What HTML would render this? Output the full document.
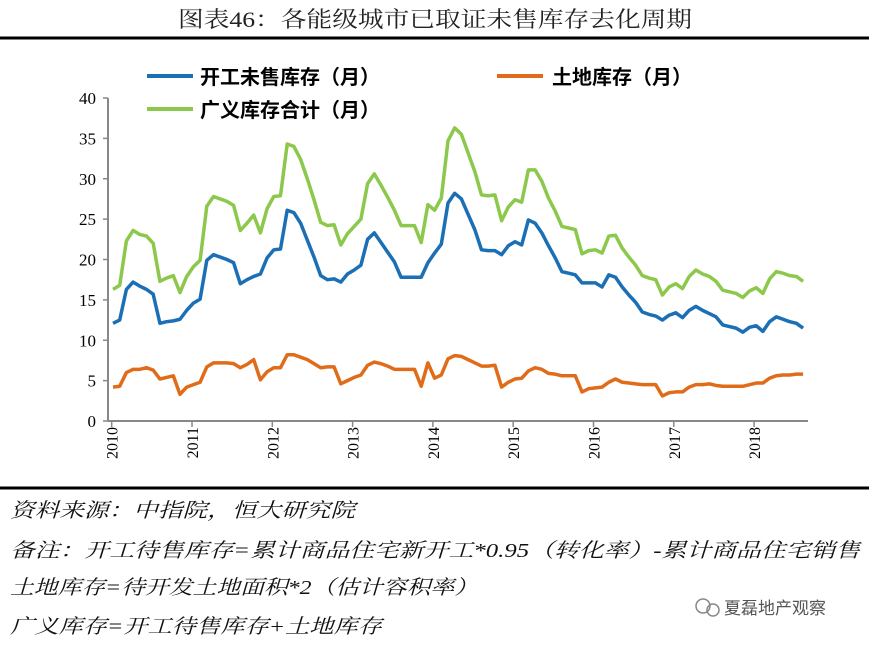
<!DOCTYPE html>
<html><head><meta charset="utf-8"><style>
body{margin:0;background:#fff;width:869px;height:647px;overflow:hidden}
svg{display:block}
.t{font-family:"Liberation Serif","Noto Serif CJK SC",serif}
.n{font-family:"Liberation Sans","Noto Sans CJK SC",sans-serif}
</style></head><body>
<svg id="c" width="869" height="647">
<text x="178" y="27" font-size="22" class="t" fill="#222" textLength="514" lengthAdjust="spacingAndGlyphs">图表46：各能级城市已取证未售库存去化周期</text>
<line x1="0" y1="38" x2="869" y2="38" stroke="#000" stroke-width="3"/>
<line x1="0" y1="488" x2="869" y2="488" stroke="#000" stroke-width="3"/>
<g>
<line x1="147" y1="76" x2="193" y2="76" stroke="#1a6fb5" stroke-width="4"/>
<text x="200" y="84" font-size="20" font-weight="bold" class="n">开工未售库存（月）</text>
<line x1="497" y1="76" x2="543" y2="76" stroke="#e06c1a" stroke-width="4"/>
<text x="552" y="84" font-size="20" font-weight="bold" class="n">土地库存（月）</text>
<line x1="147" y1="109" x2="193" y2="109" stroke="#8cc84b" stroke-width="4"/>
<text x="200" y="117" font-size="20" font-weight="bold" class="n">广义库存合计（月）</text>
</g>
<g id="axes"></g>
<g id="series"></g>
<g class="t" font-style="italic" font-size="20" fill="#111">
<text x="10" y="517" textLength="345" lengthAdjust="spacingAndGlyphs">资料来源：中指院，恒大研究院</text>
<text x="10" y="557" textLength="850" lengthAdjust="spacingAndGlyphs">备注：开工待售库存=累计商品住宅新开工*0.95（转化率）-累计商品住宅销售</text>
<text x="10" y="594" textLength="468" lengthAdjust="spacingAndGlyphs">土地库存=待开发土地面积*2（估计容积率）</text>
<text x="10" y="633" textLength="372" lengthAdjust="spacingAndGlyphs">广义库存=开工待售库存+土地库存</text>
</g>
<g>
<circle cx="703" cy="606" r="7" fill="none" stroke="#888" stroke-width="1.5"/>
<circle cx="713" cy="610" r="6" fill="none" stroke="#888" stroke-width="1.5"/>
<text x="724" y="614" font-size="17" class="n" fill="#555">夏磊地产观察</text>
</g>
</svg>
<script>
const years=["2010","2011","2012","2013","2014","2015","2016","2017","2018"];
const yTicks=[0,5,10,15,20,25,30,35,40];
const blue=[12.1,12.5,16.3,17.2,16.7,16.3,15.7,12.1,12.3,12.4,12.6,13.7,14.6,15.1,19.9,20.6,20.3,20.0,19.6,17.0,17.5,17.9,18.2,20.2,21.2,21.3,26.1,25.8,24.5,22.4,20.3,18.0,17.5,17.6,17.2,18.2,18.7,19.3,22.5,23.3,22.1,20.9,19.7,17.8,17.8,17.8,17.8,19.6,20.8,21.9,27.0,28.2,27.5,25.6,23.7,21.2,21.1,21.1,20.6,21.7,22.2,21.8,24.9,24.5,23.3,21.7,20.2,18.5,18.3,18.1,17.1,17.1,17.1,16.6,18.1,17.8,16.6,15.6,14.7,13.5,13.2,13.0,12.5,13.1,13.4,12.8,13.7,14.2,13.7,13.3,12.9,11.9,11.7,11.5,11.0,11.6,11.8,11.1,12.3,12.9,12.6,12.3,12.1,11.5];
const orange=[4.2,4.3,6.0,6.4,6.4,6.6,6.3,5.2,5.4,5.6,3.3,4.2,4.5,4.8,6.7,7.2,7.2,7.2,7.1,6.6,7.0,7.6,5.1,6.1,6.6,6.6,8.2,8.2,7.9,7.6,7.1,6.6,6.7,6.7,4.6,5.0,5.4,5.7,6.9,7.3,7.1,6.8,6.4,6.4,6.4,6.4,4.3,7.2,5.3,5.7,7.7,8.1,8.0,7.6,7.2,6.8,6.8,6.9,4.2,4.8,5.2,5.3,6.2,6.6,6.4,5.9,5.8,5.6,5.6,5.6,3.6,4.0,4.1,4.2,4.8,5.2,4.8,4.7,4.6,4.5,4.5,4.5,3.1,3.5,3.6,3.6,4.2,4.5,4.5,4.6,4.4,4.3,4.3,4.3,4.3,4.5,4.7,4.7,5.3,5.6,5.7,5.7,5.8,5.8];
const green=[16.3,16.8,22.3,23.6,23.1,22.9,22.0,17.3,17.7,18.0,15.9,17.9,19.1,19.9,26.6,27.8,27.5,27.2,26.7,23.6,24.5,25.5,23.3,26.3,27.8,27.9,34.3,34.0,32.4,30.0,27.4,24.6,24.2,24.3,21.8,23.2,24.1,25.0,29.4,30.6,29.2,27.7,26.1,24.2,24.2,24.2,22.1,26.8,26.1,27.6,34.7,36.3,35.5,33.2,30.9,28.0,27.9,28.0,24.8,26.5,27.4,27.1,31.1,31.1,29.7,27.6,26.0,24.1,23.9,23.7,20.7,21.1,21.2,20.8,22.9,23.0,21.4,20.3,19.3,18.0,17.7,17.5,15.6,16.6,17.0,16.4,17.9,18.7,18.2,17.9,17.3,16.2,16.0,15.8,15.3,16.1,16.5,15.8,17.6,18.5,18.3,18.0,17.9,17.3];
const NS="http://www.w3.org/2000/svg";
const X0=108,X1=808,Y0=421,Y1=98;
const xm=m=>113+m*6.7;
const yv=v=>Y0-(v/40)*(Y0-Y1);
const xy=i=>111.7+i*80.3;
const axes=document.getElementById('axes');
function mk(t,a,p){const e=document.createElementNS(NS,t);for(const k in a)e.setAttribute(k,a[k]);p.appendChild(e);return e;}
const ya=mk('line',{x1:X0,y1:Y1,x2:X0,y2:Y0,stroke:'#888','stroke-width':2},axes);


const xa=mk('line',{x1:X0,y1:Y0,x2:X1,y2:Y0,stroke:'#888','stroke-width':2},axes);


yTicks.forEach(v=>{
 mk('line',{x1:X0-5,y1:yv(v),x2:X0,y2:yv(v),stroke:'#888','stroke-width':1.5},axes);
 const t=mk('text',{x:X0-12,y:yv(v)+6,'text-anchor':'end','font-size':17,class:'t'},axes);
 t.textContent=v;
 
 
});
years.forEach((y,i)=>{
 const x=xy(i);
 mk('line',{x1:x,y1:Y0,x2:x,y2:Y0+6,stroke:'#888','stroke-width':1.5},axes);
 const t=mk('text',{x:0,y:0,'text-anchor':'end','font-size':16,class:'t',transform:`translate(${x+6},${Y0+6}) rotate(-90)`},axes);
 t.textContent=y;
 
 
});
const sg=document.getElementById('series');
[[orange,'#e06c1a','orange-line-land-inventory'],[green,'#8cc84b','green-line-total-inventory'],[blue,'#1a6fb5','blue-line-unsold-inventory']].forEach(([d,c,n])=>{
 const p=mk('polyline',{points:d.map((v,i)=>xm(i)+','+yv(v)).join(' '),fill:'none',stroke:c,'stroke-width':3.5,'stroke-linejoin':'round'},sg);
 
 
});
</script>
</body></html>
